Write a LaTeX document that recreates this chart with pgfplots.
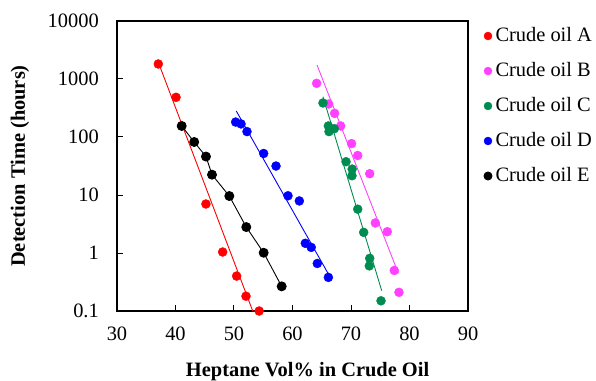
\documentclass[border=0pt]{standalone}
\usepackage{fontspec}
\setmainfont{Liberation Serif}
\usepackage{pgfplots}
\pgfplotsset{compat=1.18}
\definecolor{cA}{RGB}{255,0,0}
\definecolor{cB}{RGB}{255,64,255}
\definecolor{cC}{RGB}{0,140,80}
\definecolor{cD}{RGB}{0,0,255}
\definecolor{cE}{RGB}{0,0,0}
\begin{document}
\begin{tikzpicture}
\useasboundingbox (-117bp,-70bp) rectangle (479bp,311bp);
\begin{axis}[
 at={(0,0)}, anchor=south west,
 scale only axis, width=351bp, height=290bp,
 xmin=30, xmax=90, ymode=log, ymin=0.1, ymax=10000,
 xtick={30,40,50,60,70,80,90},
 ytick={0.1,1,10,100,1000,10000},
 yticklabels={0.1,1,10,100,1000,10000},
 yminorticks=false,
 xtick pos=bottom, ytick pos=left, tick align=inside, major tick length=5.7bp,
 axis line style={line width=1.2bp},
 every tick/.style={black, line width=1bp},
 /pgf/number format/assume math mode=true,
 tick label style={font=\fontsize{20.5}{24}\selectfont},
 xticklabel style={inner sep=0pt, anchor=north, yshift=-16bp},
 yticklabel style={inner sep=0pt, anchor=east, xshift=-18bp},
 xlabel={\textbf{Heptane Vol\% in Crude Oil}},
 ylabel={\textbf{Detection Time (hours)}},
 label style={font=\fontsize{20.5}{24}\selectfont},
 xlabel style={at={(axis description cs:0.543,-0.2103)}, anchor=center, inner sep=0pt},
 ylabel style={at={(axis description cs:-0.2764,0.5)}, anchor=center, inner sep=0pt},
 clip mode=individual,
 legend style={draw=none, fill=none, at={(axis description cs:1,1)}, anchor=north west,
   xshift=16bp, yshift=-4bp, inner sep=0pt, outer sep=0pt, row sep=13bp, column sep=1.5bp,
   nodes={inner sep=2bp, text height=14bp, text depth=4bp},
   font=\fontsize{20.5}{24}\selectfont},
 legend cell align=left,
 legend image code/.code={\draw[#1, mark size=4bp] plot coordinates {(0bp,0bp)};},
]
% trend lines
\addplot[forget plot, cA, line width=0.9bp] coordinates {(37.1,1900) (53.2,0.1)};
\addplot[forget plot, cB, line width=0.9bp] coordinates {(64.19,1743) (78.09,0.447)};
\addplot[forget plot, cC, line width=0.9bp] coordinates {(65.21,495) (75.25,0.224)};
\addplot[forget plot, cD, line width=0.9bp] coordinates {(50.39,281) (66.13,0.435)};
% data
\addplot[cA, only marks, mark=*, mark size=4.5bp] coordinates {
 (37.06,1815) (40.09,483) (45.2,7.0) (48.06,1.04) (50.45,0.40) (52.05,0.18) (54.3,0.1)};
\addlegendentry{Crude oil A}
\addplot[cB, only marks, mark=*, mark size=4.5bp] coordinates {
 (64.13,843) (66.18,371) (67.2,256) (68.23,155) (70.1,77) (71.15,48) (73.2,23.3)
 (74.16,3.3) (76.2,2.33) (77.4,0.50) (78.2,0.21)};
\addlegendentry{Crude oil B}
\addplot[cC, only marks, mark=*, mark size=4.5bp] coordinates {
 (65.21,386) (66.13,155) (67.15,139) (66.24,124) (69.15,37.5) (70.2,28) (70.17,21.5)
 (71.15,5.7) (72.17,2.27) (73.2,0.81) (73.13,0.60) (75.13,0.15)};
\addlegendentry{Crude oil C}
\addplot[cD, only marks, mark=*, mark size=4.5bp] coordinates {
 (50.28,181) (51.2,168) (52.22,124) (55.07,52) (57.18,31.6) (59.23,9.7) (61.17,7.9)
 (62.19,1.47) (63.2,1.25) (64.24,0.66) (66.13,0.38)};
\addlegendentry{Crude oil D}
\addplot[cE, line width=0.9bp, mark=*, mark size=4.5bp] coordinates {
 (41.06,155) (43.2,82) (45.21,46) (46.24,22.4) (49.2,9.6) (52.1,2.8) (55.07,1.01) (58.15,0.266)};
\addlegendentry{Crude oil E}
\end{axis}
\end{tikzpicture}
\end{document}
